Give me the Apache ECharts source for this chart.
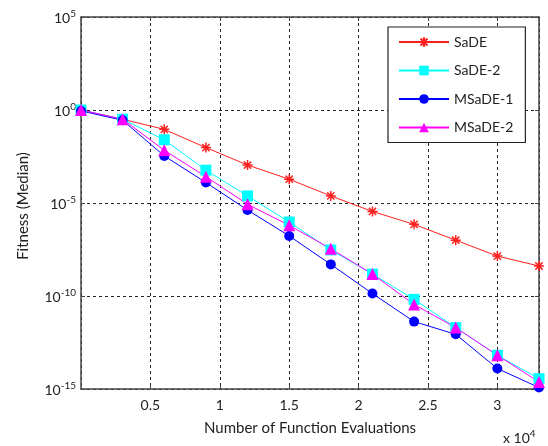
<!DOCTYPE html>
<html>
<head>
<meta charset="utf-8">
<script src="https://cdn.jsdelivr.net/npm/echarts@6/dist/echarts.min.js"></script>
<style>html,body{margin:0;padding:0;background:#fff}#c{width:548px;height:446px}</style>
</head>
<body>
<div id="c"></div>
<script>
const evals = [0, 3000, 6000, 9000, 12000, 15000, 18000, 21000, 24000, 27000, 30000, 33000];
const sade   = [1, 3.2e-1, 9.1e-2, 9.5e-3, 1.1e-3, 1.9e-4, 2.4e-5, 3.5e-6, 7.1e-7, 1.0e-7, 1.4e-8, 4.1e-9];
const sade2  = [1, 3.2e-1, 2.5e-2, 5.8e-4, 2.4e-5, 9.5e-7, 3.0e-8, 1.5e-9, 6.6e-11, 2.0e-12, 6.5e-14, 3.6e-15];
const msade1 = [0.89, 2.8e-1, 3.4e-3, 1.26e-4, 4.2e-6, 1.7e-7, 5.0e-9, 1.35e-10, 4.2e-12, 8.7e-13, 1.26e-14, 1.2e-15];
const msade2 = [1, 3.2e-1, 6.8e-3, 2.6e-4, 8.5e-6, 6.3e-7, 3.5e-8, 1.5e-9, 3.5e-11, 2.0e-12, 6.5e-14, 2.4e-15];
const seriesNames = ['SaDE', 'SaDE-2', 'MSaDE-1', 'MSaDE-2'];
const xTitle = 'Number of Function Evaluations';
const yTitle = 'Fitness (Median)';

const FONT = 'Lato';
const pair = (ys) => evals.map((x, i) => [x, ys[i]]);
const starPath = 'path://M0,-5L0,5M-5,0L5,0M-3.6,-3.6L3.6,3.6M-3.6,3.6L3.6,-3.6';
const gridLine = { show: true, lineStyle: { color: '#222', type: [3, 3], width: 1 } };
const axisLine = { show: true, onZero: false, lineStyle: { color: '#444', width: 1.5 } };

const chart = echarts.init(document.getElementById('c'), null, { renderer: 'canvas' });
chart.setOption({
  animation: false,
  backgroundColor: '#fff',
  textStyle: { fontFamily: FONT },
  grid: { left: 81, right: 9, top: 17, bottom: 57, containLabel: false },
  xAxis: [{
    type: 'value', min: 0, max: 33000, interval: 5000,
    axisLine: axisLine,
    axisTick: { show: true, inside: true, length: 4, lineStyle: { color: '#444' } },
    splitLine: gridLine,
    axisLabel: {
      color: '#222', fontSize: 14, fontFamily: FONT, margin: 9,
      showMaxLabel: false, showMinLabel: false,
      formatter: v => (v === 0 ? '' : String(v / 10000))
    }
  }, {
    type: 'value', min: 0, max: 33000, interval: 5000, position: 'top',
    axisLine: axisLine,
    axisTick: { show: true, inside: true, length: 4, lineStyle: { color: '#444' } },
    splitLine: { show: false }, axisLabel: { show: false }
  }],
  yAxis: [{
    type: 'log', logBase: 10, min: 1e-15, max: 1e5, interval: 5,
    axisLine: axisLine,
    axisTick: { show: true, inside: true, length: 4, lineStyle: { color: '#444' } },
    splitLine: gridLine,
    axisLabel: {
      margin: 5, color: '#222', fontFamily: FONT,
      formatter: v => {
        const e = Math.round(Math.log10(v));
        return '{b|10}{s|' + e + '}';
      },
      rich: {
        b: { fontSize: 14, color: '#222', fontFamily: FONT, verticalAlign: 'bottom', lineHeight: 16 },
        s: { fontSize: 10, color: '#222', fontFamily: FONT, verticalAlign: 'top', padding: [0, 0, 10, 0], lineHeight: 12 }
      }
    }
  }, {
    type: 'log', logBase: 10, min: 1e-15, max: 1e5, interval: 5, position: 'right',
    axisLine: axisLine,
    axisTick: { show: true, inside: true, length: 4, lineStyle: { color: '#444' } },
    splitLine: { show: false }, axisLabel: { show: false }
  }],
  legend: {
    orient: 'vertical', left: 388, top: 27,
    width: 125,
    padding: [8, 12, 8, 10],
    itemWidth: 50, itemHeight: 12, itemGap: 14.5,
    borderColor: '#222', borderWidth: 1.2, backgroundColor: '#fff',
    textStyle: { fontSize: 14, color: '#222', fontFamily: FONT },
    data: seriesNames
  },
  series: [
    { name: seriesNames[0], type: 'line', data: pair(sade), symbol: starPath, symbolSize: 10,
      lineStyle: { color: '#ff2020', width: 1 },
      itemStyle: { color: '#ff2020', borderColor: '#ff2020', borderWidth: 1.5 } },
    { name: seriesNames[1], type: 'line', data: pair(sade2), symbol: 'rect', symbolSize: 11,
      lineStyle: { color: '#00ffff', width: 1 }, itemStyle: { color: '#00ffff' } },
    { name: seriesNames[2], type: 'line', data: pair(msade1), symbol: 'circle', symbolSize: 10,
      lineStyle: { color: '#0000ff', width: 1 }, itemStyle: { color: '#0000ff' } },
    { name: seriesNames[3], type: 'line', data: pair(msade2), symbol: 'triangle', symbolSize: 12,
      lineStyle: { color: '#ff00ff', width: 1 }, itemStyle: { color: '#ff00ff' } }
  ],
  graphic: [
    { type: 'text', left: 'center', x: 0, style: { text: xTitle, x: 310, y: 428, align: 'center', verticalAlign: 'middle', font: '15px ' + FONT, fill: '#222' }, left: null },
    { type: 'text', x: 23, y: 206, rotation: Math.PI / 2,
      style: { text: yTitle, align: 'center', verticalAlign: 'middle', font: '15px ' + FONT, fill: '#222' } },
    { type: 'text', x: 503, y: 437,
      style: { text: '{b|x 10}{s|4}', verticalAlign: 'middle', fill: '#222',
        rich: { b: { fontSize: 14, fontFamily: FONT, fill: '#222', verticalAlign: 'bottom', lineHeight: 16 },
                s: { fontSize: 10, fontFamily: FONT, fill: '#222', verticalAlign: 'top', padding: [0, 0, 10, 0], lineHeight: 12 } } } }
  ]
});
</script>
</body>
</html>
